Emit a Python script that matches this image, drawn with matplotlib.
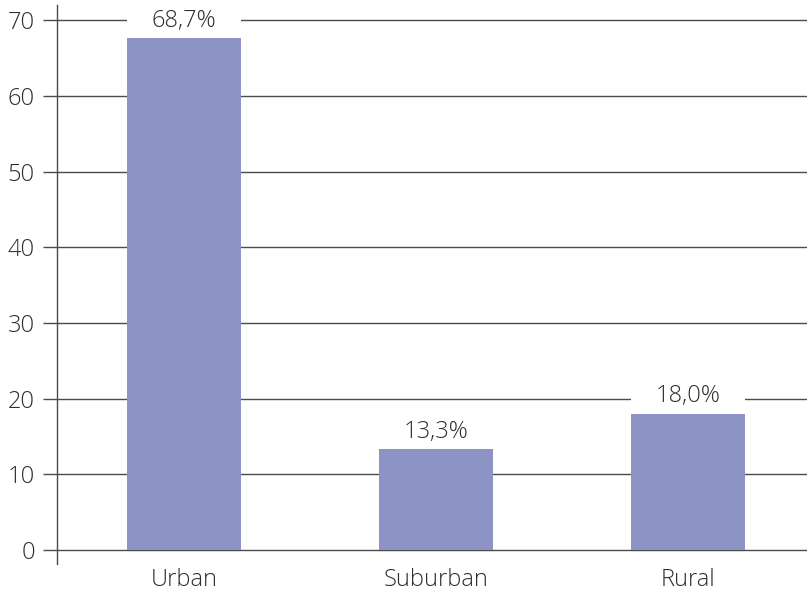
import matplotlib
matplotlib.use("Agg")
import matplotlib.pyplot as plt

# chart data
categories = ["Urban", "Suburban", "Rural"]
values = [67.6, 13.3, 18.0]
value_labels = ["68,7%", "13,3%", "18,0%"]
yticks = [0, 10, 20, 30, 40, 50, 60, 70]

bar_color = "#8E93C6"
grid_color = "#4a4a4a"
text_color = "#2e2e2e"

plt.rcParams["font.family"] = ["Open Sans", "DejaVu Sans"]
plt.rcParams["font.weight"] = "light"

fig = plt.figure(figsize=(8.07, 5.93), dpi=100)
ax = fig.add_axes([57 / 807, 1 - 564 / 593, 1 - 57 / 807, (564 - 5) / 593])

x = list(range(len(categories)))

# white patches behind the value labels so gridlines break there
ax.bar(x, [3.6] * len(x), bottom=[v + 0.6 for v in values], width=0.452,
       color="white", zorder=1.5)
ax.bar(x, values, width=0.452, color=bar_color, zorder=2)

for xi, v, lab in zip(x, values, value_labels):
    ax.annotate(lab, (xi, v), xytext=(0, 4), textcoords="offset points",
                ha="center", va="bottom", fontsize=17, color=text_color,
                fontweight="light", zorder=3)

ax.set_xlim(-0.504, 2.472)
ax.set_ylim(-1.85, 72)
ax.set_yticks(yticks)
ax.set_xticks(x)
ax.set_xticklabels(categories)

ax.yaxis.grid(True, color=grid_color, lw=1, zorder=0)
ax.set_axisbelow(True)
for s in ["top", "right", "bottom"]:
    ax.spines[s].set_visible(False)
ax.spines["left"].set_color(grid_color)
ax.spines["left"].set_linewidth(1)

ax.tick_params(axis="y", length=10, width=1, color=grid_color, pad=6,
               labelsize=17, labelcolor=text_color)
ax.tick_params(axis="x", length=0, pad=3, labelsize=17, labelcolor=text_color)
for t in ax.get_xticklabels() + ax.get_yticklabels():
    t.set_fontweight("light")

fig.savefig("out.png", dpi=100)
